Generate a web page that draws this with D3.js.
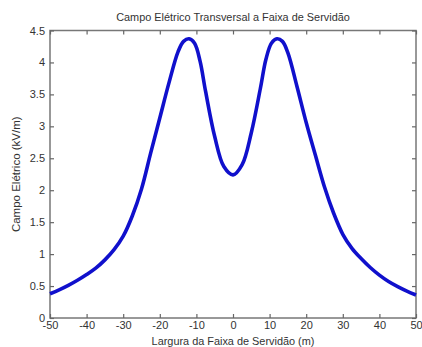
<!DOCTYPE html>
<html>
<head>
<meta charset="utf-8">
<script src="https://cdn.jsdelivr.net/npm/d3@7"></script>
<style>
  body { margin: 0; background: #fff; }
  text { font-family: "Liberation Sans", Arial, sans-serif; fill: #333; }
</style>
</head>
<body>
<div id="chart"></div>
<script>
// values (distance in m, field in kV/m)
var distances = [-50, -47.5, -45, -42.5, -40, -37.5, -35, -32.5, -30, -27.5, -25, -22.5, -20, -17.5, -15, -13.5, -12, -10.5, -9, -7.5, -5, -2.5, 0,
                 2.5, 5, 7.5, 9, 10.5, 12, 13.5, 15, 17.5, 20, 22.5, 25, 27.5, 30, 32.5, 35, 37.5, 40, 42.5, 45, 47.5, 50];
var field = [0.38, 0.44, 0.51, 0.59, 0.68, 0.78, 0.91, 1.07, 1.28, 1.60, 2.02, 2.58, 3.13, 3.68, 4.17, 4.33, 4.37, 4.30, 4.02, 3.55, 2.84, 2.37, 2.24,
             2.40, 2.90, 3.60, 4.05, 4.30, 4.37, 4.33, 4.15, 3.62, 3.06, 2.55, 2.05, 1.64, 1.31, 1.09, 0.93, 0.79, 0.67, 0.57, 0.49, 0.42, 0.36];
var xTicks = [-50, -40, -30, -20, -10, 0, 10, 20, 30, 40, 50];
var yTicks = [0, 0.5, 1, 1.5, 2, 2.5, 3, 3.5, 4, 4.5];

var W = 422, H = 347;
var margin = {top: 30.5, right: 6, bottom: 29, left: 50};
var width = W - margin.left - margin.right,
    height = H - margin.top - margin.bottom;

var svg = d3.select("#chart").append("svg")
    .attr("width", W)
    .attr("height", H);

var g = svg.append("g")
    .attr("transform", "translate(" + margin.left + "," + margin.top + ")");

var xScale = d3.scaleLinear().domain([-50, 50]).range([0, width]),
    yScale = d3.scaleLinear().domain([0, 4.5]).range([height, 0]);

// box frame
g.append("rect")
    .attr("width", width)
    .attr("height", height)
    .attr("fill", "none")
    .attr("stroke", "#777")
    .attr("stroke-width", 1.5);

// inward ticks on all sides (matlab style), plain hyphen for negatives
var tl = 4;
var plain = function(d) { return String(d); };
g.append("g").attr("transform", "translate(0," + height + ")")
    .call(d3.axisBottom(xScale).tickValues(xTicks).tickSizeInner(-tl).tickSizeOuter(0).tickPadding(3).tickFormat(plain));
g.append("g")
    .call(d3.axisTop(xScale).tickValues(xTicks).tickSizeInner(-tl).tickSizeOuter(0).tickFormat(""));
g.append("g")
    .call(d3.axisLeft(yScale).tickValues(yTicks).tickSizeInner(-tl).tickSizeOuter(0).tickPadding(5).tickFormat(plain));
g.append("g").attr("transform", "translate(" + width + ",0)")
    .call(d3.axisRight(yScale).tickValues(yTicks).tickSizeInner(-tl).tickSizeOuter(0).tickFormat(""));

g.selectAll(".domain").remove();
g.selectAll(".tick line").attr("stroke", "#666").attr("stroke-width", 1.2);
g.selectAll(".tick text").style("font-size", "11px").attr("fill", "#333");

// field curve
var pts = distances.map(function(d, i) { return [d, field[i]]; });
var line = d3.line()
    .x(function(d) { return xScale(d[0]); })
    .y(function(d) { return yScale(d[1]); })
    .curve(d3.curveCatmullRom);

g.append("path")
    .datum(pts)
    .attr("fill", "none")
    .attr("stroke", "#1010cc")
    .attr("stroke-width", 3.6)
    .attr("stroke-linejoin", "round")
    .attr("d", line);

// title and axis labels
svg.append("text")
    .attr("x", margin.left + width / 2)
    .attr("y", 21)
    .attr("text-anchor", "middle")
    .style("font-size", "10.9px")
    .text("Campo Elétrico Transversal a Faixa de Servidão");

svg.append("text")
    .attr("x", margin.left + width / 2)
    .attr("y", H - 2)
    .attr("text-anchor", "middle")
    .style("font-size", "10.9px")
    .text("Largura da Faixa de Servidão (m)");

svg.append("text")
    .attr("transform", "translate(20," + (margin.top + height / 2) + ") rotate(-90)")
    .attr("text-anchor", "middle")
    .style("font-size", "11.5px")
    .text("Campo Elétrico (kV/m)");
</script>
</body>
</html>
